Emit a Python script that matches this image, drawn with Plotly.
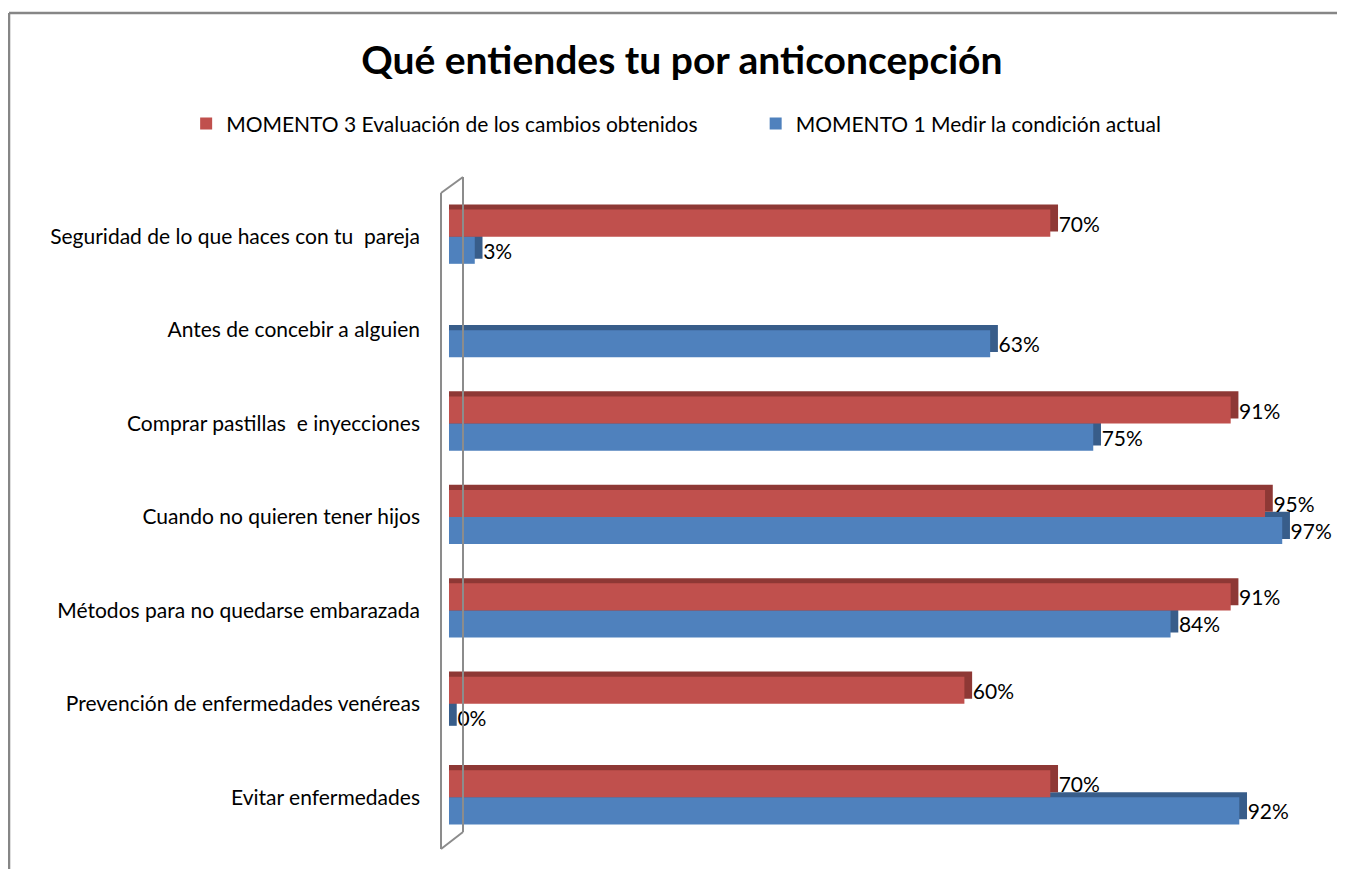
import plotly.graph_objects as go

# Datos
categorias = [
    "Seguridad de lo que haces con tu  pareja",
    "Antes de concebir a alguien",
    "Comprar pastillas  e inyecciones",
    "Cuando no quieren tener hijos",
    "Métodos para no quedarse embarazada",
    "Prevención de enfermedades venéreas",
    "Evitar enfermedades",
]
momento3 = [70, None, 91, 95, 91, 60, 70]
momento1 = [3, 63, 75, 97, 84, 0, 92]

nombre_m3 = "MOMENTO 3 Evaluación de los cambios obtenidos"
nombre_m1 = "MOMENTO 1 Medir la condición actual"

ROJO, ROJO_OSC = "#C0504D", "#8E3835"
AZUL, AZUL_OSC = "#4F81BD", "#385D8A"
FUENTE = "Lato, Carlito, Calibri, sans-serif"

ANCHO = 0.29      # ancho de cada barra (unidades de categoria)
PROF_Y = 0.055    # profundidad 3D hacia arriba
PROF_X = 0.9      # profundidad 3D hacia la derecha (en %)


def con_prof(vals):
    return [None if v is None else v + PROF_X for v in vals]


fig = go.Figure()

# Serie azul: cara 3D y barra frontal
fig.add_trace(go.Bar(
    y=categorias, x=con_prof(momento1), orientation="h",
    offset=-PROF_Y, width=ANCHO, marker=dict(color=AZUL_OSC, line_width=0),
    showlegend=False, hoverinfo="skip"
))
fig.add_trace(go.Bar(
    y=categorias, x=momento1, orientation="h", name=nombre_m1,
    offset=0, width=ANCHO, marker=dict(color=AZUL, line_width=0),
    texttemplate=" %{x}%", textposition="outside", cliponaxis=False,
    textfont=dict(size=21, color="#000000", family=FUENTE),
    constraintext="none", legend="legend2"
))

# Serie roja: cara 3D y barra frontal
fig.add_trace(go.Bar(
    y=categorias, x=con_prof(momento3), orientation="h",
    offset=-ANCHO - PROF_Y, width=ANCHO, marker=dict(color=ROJO_OSC, line_width=0),
    showlegend=False, hoverinfo="skip"
))
fig.add_trace(go.Bar(
    y=categorias, x=momento3, orientation="h", name=nombre_m3,
    offset=-ANCHO, width=ANCHO, marker=dict(color=ROJO, line_width=0),
    texttemplate=" %{x}%", textposition="outside", cliponaxis=False,
    textfont=dict(size=21, color="#000000", family=FUENTE),
    constraintext="none", legend="legend"
))

# Pared 3D del eje y marco del grafico
gris = dict(color="#8C8C8C", width=2)
fig.add_shape(type="line", xref="paper", yref="paper", x0=-0.0093, x1=-0.0093, y0=0.9954, y1=-0.0076, line=gris)
fig.add_shape(type="line", xref="paper", yref="paper", x0=0.0163, x1=0.0163, y0=1.0199, y1=0.0183, line=gris)
fig.add_shape(type="line", xref="paper", yref="paper", x0=-0.0093, x1=0.0163, y0=0.9954, y1=1.0199, line=gris)
fig.add_shape(type="line", xref="paper", yref="paper", x0=-0.0093, x1=0.0163, y0=-0.0076, y1=0.0183, line=gris)
marco = dict(color="#868686", width=2.5)
fig.add_shape(type="line", xref="paper", yref="paper", x0=-0.5122, x1=1.05, y0=1.2706, y1=1.2706, line=marco)
fig.add_shape(type="line", xref="paper", yref="paper", x0=-0.5122, x1=-0.5122, y0=1.2706, y1=-0.05, line=marco)

leyenda = dict(
    orientation="h", xanchor="left", y=1.101, yanchor="middle",
    font=dict(size=21, family=FUENTE), itemwidth=30, bgcolor="rgba(0,0,0,0)"
)

# la pagina tiene 8 px de margen en el body
fig.update_layout(
    width=1337, height=861,
    margin=dict(l=441, r=37, t=182, b=25),
    paper_bgcolor="white", plot_bgcolor="white",
    barmode="overlay",
    font=dict(family=FUENTE, size=21, color="#000000"),
    title=dict(
        text="<b>Qué entiendes tu por anticoncepción</b>",
        x=0.504, xanchor="center", y=0.9396, yanchor="middle",
        font=dict(size=39, family=FUENTE, color="#000000")
    ),
    legend=dict(leyenda, x=-0.306),
    legend2=dict(leyenda, x=0.357),
    xaxis=dict(range=[0, 100], visible=False, showgrid=False, zeroline=False),
    yaxis=dict(
        autorange="reversed", showgrid=False, zeroline=False, showline=False,
        ticks="", ticklabelstandoff=28, tickfont=dict(size=21, family=FUENTE)
    ),
)

fig.write_html("out.html")
